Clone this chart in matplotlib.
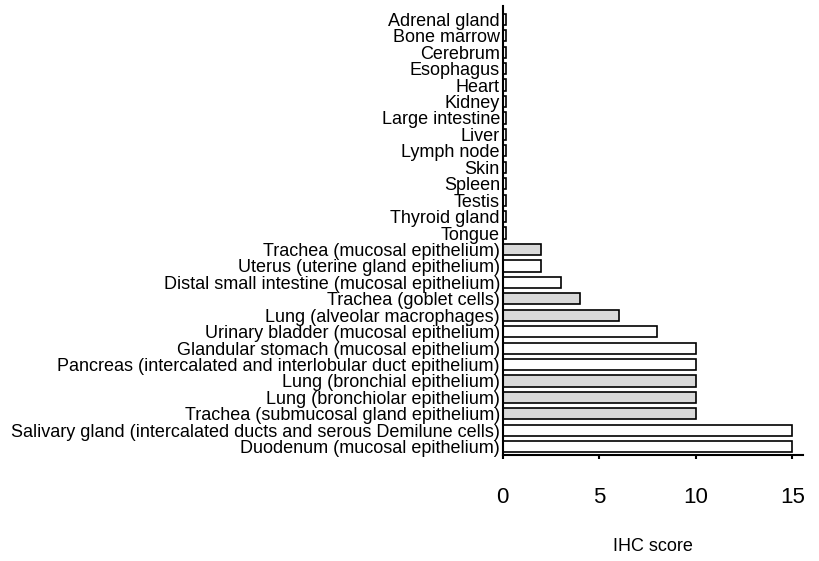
import numpy as np
import matplotlib
matplotlib.use('Agg')
import matplotlib.pyplot as plt

plt.rcParams['font.family'] = ['Liberation Sans', 'DejaVu Sans']

tissues = ['Adrenal gland', 'Bone marrow', 'Cerebrum', 'Esophagus', 'Heart', 'Kidney',
           'Large intestine', 'Liver', 'Lymph node', 'Skin', 'Spleen', 'Testis',
           'Thyroid gland', 'Tongue',
           'Trachea (mucosal epithelium)',
           'Uterus (uterine gland epithelium)',
           'Distal small intestine (mucosal epithelium)',
           'Trachea (goblet cells)',
           'Lung (alveolar macrophages)',
           'Urinary bladder (mucosal epithelium)',
           'Glandular stomach (mucosal epithelium)',
           'Pancreas (intercalated and interlobular duct epithelium)',
           'Lung (bronchial epithelium)',
           'Lung (bronchiolar epithelium)',
           'Trachea (submucosal gland epithelium)',
           'Salivary gland (intercalated ducts and serous Demilune cells)',
           'Duodenum (mucosal epithelium)']
scores = [0, 0, 0, 0, 0, 0, 0, 0, 0, 0, 0, 0, 0, 0,
          2, 2, 3, 4, 6, 8, 10, 10, 10, 10, 10, 15, 15]
# respiratory tissues drawn in grey
respiratory = [0, 0, 0, 0, 0, 0, 0, 0, 0, 0, 0, 0, 0, 0,
               1, 0, 0, 1, 1, 0, 0, 0, 1, 1, 1, 0, 0]

colors = ['#d9d9d9' if r else 'white' for r in respiratory]
# zero scores still show as a thin box
widths = np.maximum(np.array(scores, dtype=float), 0.15)

fig = plt.figure(figsize=(8.19, 5.61), dpi=100)
ax = fig.add_axes([0.6138, 0.189, 0.367, 0.80])

y = np.arange(len(tissues))
ax.barh(y, widths, height=0.68, color=colors, edgecolor='black', linewidth=1.2)

ax.set_yticks(y)
ax.set_yticklabels(tissues, fontsize=13)
ax.set_ylim(26.5, -0.8)
ax.set_xlim(0, 15.56)
ax.set_xticks([0, 5, 10, 15])
ax.tick_params(axis='y', length=0, pad=2)
ax.tick_params(axis='x', length=3, width=1.5, pad=20, labelsize=16)
ax.set_xlabel('IHC score', fontsize=13, labelpad=22)

for s in ['top', 'right']:
    ax.spines[s].set_visible(False)
for s in ['left', 'bottom']:
    ax.spines[s].set_linewidth(1.5)

fig.savefig('out.png', dpi=100)
